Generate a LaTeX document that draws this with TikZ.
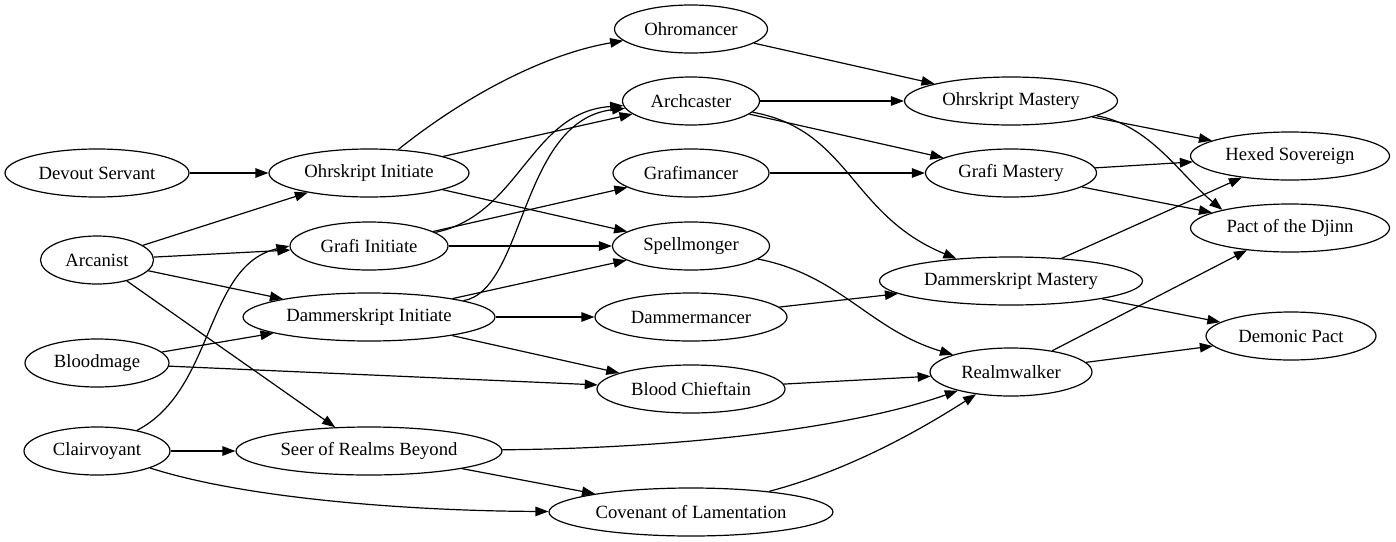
\documentclass[tikz,border=0pt]{standalone}
\usepackage{fontspec}
\setmainfont{Liberation Serif}
\usetikzlibrary{shapes.geometric,arrows.meta}
\begin{document}
\begin{tikzpicture}[x=1pt,y=-1pt,
  nd/.style={ellipse,draw,line width=1.2pt,inner sep=0pt,minimum height=48pt,font=\fontsize{18.67}{22}\selectfont},
  e/.style={draw,line width=1.2pt,-{Triangle[length=13pt,width=9.5pt]}}]
\useasboundingbox[fill=white] (0,0) rectangle (1396,541);
% column 1
\node[nd,minimum width=184pt] (dev) at (97,173) {Devout Servant};
\node[nd,minimum width=113pt] (arc) at (97,260) {Arcanist};
\node[nd,minimum width=144pt] (blood) at (97,363) {Bloodmage};
\node[nd,minimum width=146pt] (clair) at (97,451) {Clairvoyant};
% column 2
\node[nd,minimum width=200pt] (ohri) at (369,173) {Ohrskript Initiate};
\node[nd,minimum width=158pt] (grafi) at (369,246) {Grafi Initiate};
\node[nd,minimum width=252pt] (dami) at (369,317) {Dammerskript Initiate};
\node[nd,minimum width=266pt] (seer) at (369,451) {Seer of Realms Beyond};
% column 3
\node[nd,minimum width=153pt] (ohro) at (691,29) {Ohromancer};
\node[nd,minimum width=137pt] (archc) at (691,101) {Archcaster};
\node[nd,minimum width=156pt] (grafm) at (691,173) {Grafimancer};
\node[nd,minimum width=157pt] (spell) at (691,246) {Spellmonger};
\node[nd,minimum width=192pt] (dammm) at (691,317) {Dammermancer};
\node[nd,minimum width=188pt] (bchief) at (691,389) {Blood Chieftain};
\node[nd,minimum width=284pt] (cov) at (691,512) {Covenant of Lamentation};
% column 4
\node[nd,minimum width=213pt] (ohrm) at (1011,101) {Ohrskript Mastery};
\node[nd,minimum width=171pt] (grafmast) at (1011,173) {Grafi Mastery};
\node[nd,minimum width=263pt] (dammast) at (1011,281) {Dammerskript Mastery};
\node[nd,minimum width=162pt] (realm) at (1011,372) {Realmwalker};
% column 5
\node[nd,minimum width=199pt] (hex) at (1290,156) {Hexed Sovereign};
\node[nd,minimum width=199pt] (pact) at (1290,228) {Pact of the Djinn};
\node[nd,minimum width=170pt] (demon) at (1291,336) {Demonic Pact};
% edges from column 1
\draw[e] (dev) -- (ohri);
\draw[e] (arc) -- (ohri);
\draw[e] (arc) -- (grafi);
\draw[e] (arc) -- (dami);
\draw[e] (arc) -- (seer);
\draw[e] (blood) -- (dami);
\draw[e] (blood) -- (bchief);
\draw[e] (clair) .. controls (215,390) and (205,265) .. (grafi.west);
\draw[e] (clair) -- (seer);
\draw[e] (clair) .. controls (250,500) and (420,511) .. (cov);
% edges from column 2
\draw[e] (ohri) .. controls (460,100) and (540,55) .. (ohro);
\draw[e] (ohri) -- (archc);
\draw[e] (ohri) -- (spell);
\draw[e] (grafi) .. controls (520,215) and (530,112) .. (archc);
\draw[e] (grafi) -- (grafm);
\draw[e] (grafi) -- (spell);
\draw[e] (dami) .. controls (525,290) and (520,120) .. (archc);
\draw[e] (dami) -- (spell);
\draw[e] (dami) -- (dammm);
\draw[e] (dami) -- (bchief);
\draw[e] (seer) .. controls (700,448) and (860,425) .. (realm);
\draw[e] (seer) -- (cov);
% edges from column 3
\draw[e] (ohro) -- (ohrm);
\draw[e] (archc) -- (ohrm);
\draw[e] (archc) -- (grafmast);
\draw[e] (archc) .. controls (850,130) and (850,215) .. (dammast);
\draw[e] (grafm) -- (grafmast);
\draw[e] (spell) .. controls (840,275) and (870,330) .. (realm);
\draw[e] (dammm) -- (dammast);
\draw[e] (bchief) -- (realm);
\draw[e] (cov) .. controls (850,470) and (920,430) .. (realm);
% edges from column 4
\draw[e] (ohrm) -- (hex);
\draw[e] (ohrm) .. controls (1150,125) and (1180,175) .. (pact.165);
\draw[e] (grafmast) -- (hex);
\draw[e] (grafmast) -- (pact);
\draw[e] (dammast) -- (hex);
\draw[e] (dammast) -- (demon);
\draw[e] (realm) -- (pact);
\draw[e] (realm) -- (demon);
\end{tikzpicture}
\end{document}
